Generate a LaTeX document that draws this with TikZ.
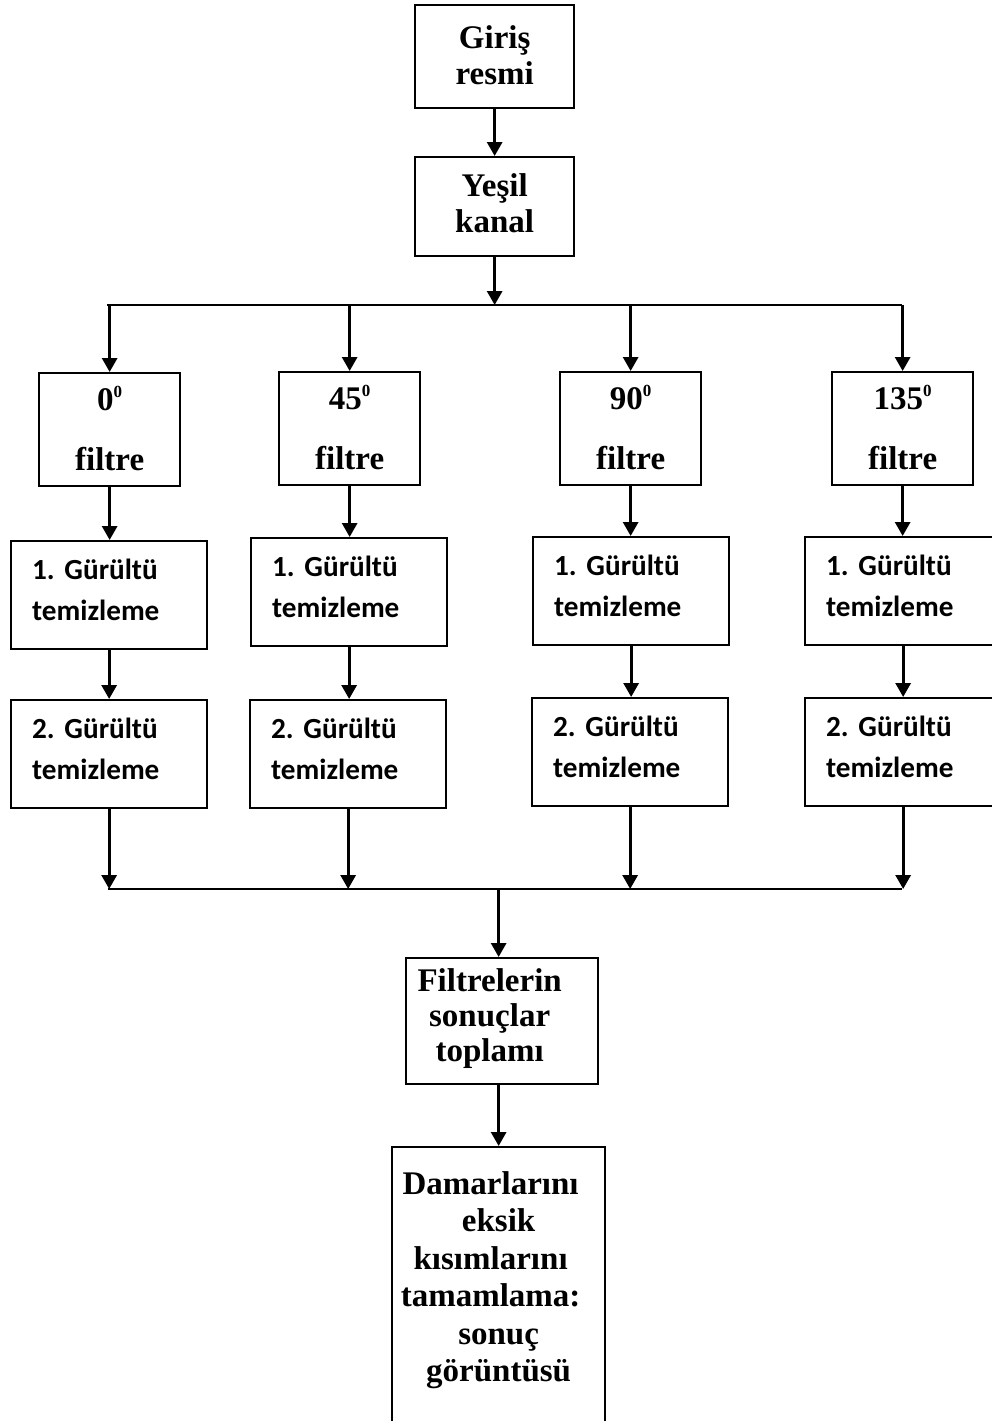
\documentclass[tikz,border=0pt]{standalone}
\usepackage{fontspec}
\setmainfont{Liberation Serif}
\newfontfamily\calfont{Carlito}
\usetikzlibrary{arrows.meta}

% small raised zero used as the degree mark
\newcommand\degsup{\raisebox{6.5pt}{\fontsize{8.5}{8.5}\selectfont 0}}

\begin{document}
\frenchspacing
\begin{tikzpicture}[x=0.5pt,y=-0.5pt,
  box/.style={draw, line width=1.15pt, anchor=north west, inner ysep=0pt},
  serifbox/.style={box, align=center, inner xsep=2pt,
    font=\fontsize{16.5}{18}\selectfont\bfseries},
  filterbox/.style={serifbox, text width=66.5pt, text height=18.5pt, text depth=38pt},
  sansbox/.style={box, align=left, inner xsep=10.5pt, text width=77pt,
    text height=19pt, text depth=35pt,
    font=\calfont\fontsize{14.6}{20.5}\selectfont\bfseries},
  arr/.style={line width=1.5pt, -{Triangle[length=7pt,width=7.5pt]}},
  bus/.style={line width=1.1pt}
]
\useasboundingbox (0,0) rectangle (992,1421);

% input and green channel
\node[serifbox, text width=75.5pt, text height=21.5pt, text depth=30pt] (giris) at (414,4) {Giriş\\resmi};
\node[serifbox, text width=75.5pt, text height=19.5pt, text depth=30pt] (yesil) at (414,156) {Yeşil\\kanal};

% directional filters
\node[filterbox] (f0)   at (38,372)  {0\degsup\\[12pt]filtre};
\node[filterbox] (f45)  at (278,371) {45\degsup\\[12pt]filtre};
\node[filterbox] (f90)  at (559,371) {90\degsup\\[12pt]filtre};
\node[filterbox] (f135) at (831,371) {135\degsup\\[12pt]filtre};

% first noise removal
\node[sansbox] (ga1) at (10,540)  {1. Gürültü\\temizleme};
\node[sansbox] (ga2) at (250,537) {1. Gürültü\\temizleme};
\node[sansbox] (ga3) at (532,536) {1. Gürültü\\temizleme};
\node[sansbox] (ga4) at (804,536) {1. Gürültü\\temizleme};

% second noise removal
\node[sansbox] (gb1) at (10,699)  {2. Gürültü\\temizleme};
\node[sansbox] (gb2) at (249,699) {2. Gürültü\\temizleme};
\node[sansbox] (gb3) at (531,697) {2. Gürültü\\temizleme};
\node[sansbox] (gb4) at (804,697) {2. Gürültü\\temizleme};

% summation and final result
\node[serifbox, text width=92pt, text height=16.5pt, text depth=46.5pt,
  font=\fontsize{16.5}{17.5}\selectfont\bfseries] (sum) at (405,957)
  {Filtrelerin\kern12.5pt\\sonuçlar\kern12.5pt\\toplamı\kern12.5pt};
\node[serifbox, inner xsep=1pt, text width=104.5pt, text height=23.5pt, text depth=123.5pt,
  font=\fontsize{16.5}{18.75}\selectfont\bfseries] (res) at (391,1146)
  {Damarlarını\kern8pt\\eksik\\kısımlarını\kern8pt\\tamamlama:\kern8pt\\sonuç\\görüntüsü};

% bus lines
\coordinate (bl) at (107,305);
\coordinate (br) at (902,305);
\coordinate (ml) at (108,889);
\coordinate (mr) at (902,889);

\draw[arr] (giris.south) -- (yesil.north);
\draw[arr] (yesil.south) -- (yesil.south |- bl);
\draw[bus] (bl) -- (br);
\foreach \f in {f0,f45,f90,f135}
  \draw[arr] (\f.north |- bl) -- (\f.north);

\draw[arr] (f0.south)   -- (ga1.north -| f0.south);
\draw[arr] (f45.south)  -- (ga2.north -| f45.south);
\draw[arr] (f90.south)  -- (ga3.north -| f90.south);
\draw[arr] (f135.south) -- (ga4.north -| f135.south);

\foreach \i in {1,2,3,4}
  \draw[arr] (ga\i.south) -- (gb\i.north -| ga\i.south);

\draw[bus] (ml) -- (mr);
\foreach \i in {1,2,3,4}
  \draw[arr] (gb\i.south) -- (gb\i.south |- ml);

\draw[arr] (res.north |- ml) -- (sum.north -| res.north);
\draw[arr] (sum.south -| res.north) -- (res.north);
\end{tikzpicture}
\end{document}
